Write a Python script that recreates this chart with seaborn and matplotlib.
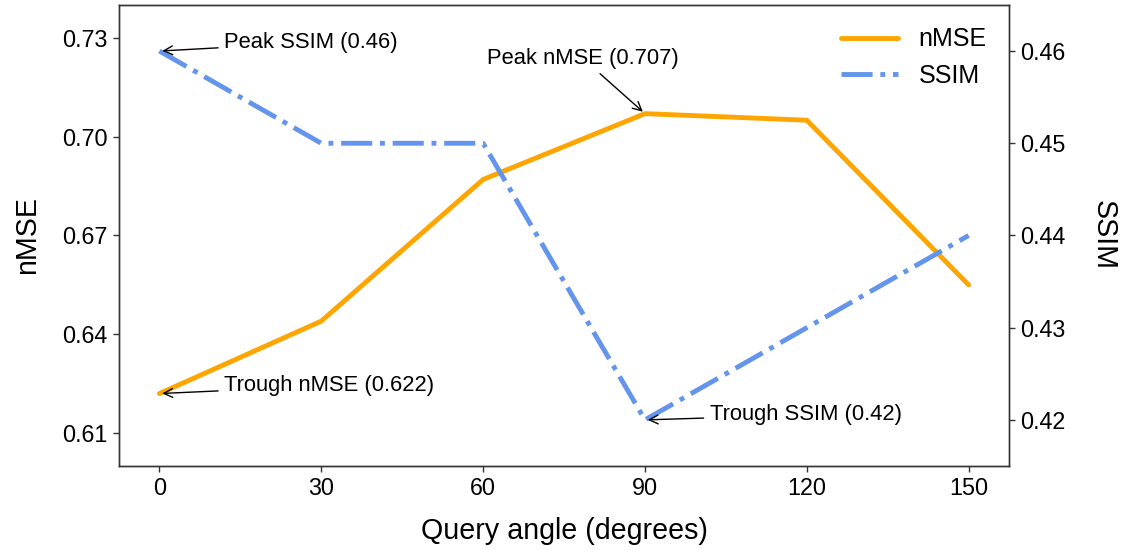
import numpy as np
import pandas as pd
import seaborn as sns

import matplotlib
matplotlib.use('Agg')
import matplotlib.pyplot as plt
from matplotlib.ticker import FormatStrFormatter

# data
angles = [0, 30, 60, 90, 120, 150]
nmse = [0.622, 0.644, 0.687, 0.707, 0.705, 0.655]
ssim = [0.46, 0.45, 0.45, 0.42, 0.43, 0.44]

nmse_ticks = [0.61, 0.64, 0.67, 0.70, 0.73]
ssim_ticks = [0.42, 0.43, 0.44, 0.45, 0.46]

df = pd.DataFrame({'angle': angles, 'nMSE': nmse, 'SSIM': ssim})

sns.set_style('ticks')
plt.rcParams['font.family'] = ['Liberation Sans', 'DejaVu Sans']
plt.rcParams['axes.edgecolor'] = '.2'
plt.rcParams['axes.linewidth'] = 1.0
plt.rcParams['text.color'] = 'black'
plt.rcParams['axes.labelcolor'] = 'black'
plt.rcParams['xtick.color'] = 'black'
plt.rcParams['ytick.color'] = 'black'

fig, ax = plt.subplots(figsize=(11.3, 5.5), dpi=100)
fig.subplots_adjust(left=0.1053, right=0.893, top=0.991, bottom=0.1527)
ax2 = ax.twinx()

sns.lineplot(data=df, x='angle', y='nMSE', ax=ax, color='orange',
             lw=3.5, label='nMSE', legend=False)
sns.lineplot(data=df, x='angle', y='SSIM', ax=ax2, color='cornflowerblue',
             lw=3.5, linestyle='-.', label='SSIM', legend=False)

ax.set_ylim(0.600, 0.740)
ax2.set_ylim(0.415, 0.465)
ax.set_xticks(angles)
ax.set_yticks(nmse_ticks)
ax2.set_yticks(ssim_ticks)
ax.yaxis.set_major_formatter(FormatStrFormatter('%.2f'))
ax2.yaxis.set_major_formatter(FormatStrFormatter('%.2f'))

for a in (ax, ax2):
    a.tick_params(labelsize=16.8, length=4.2, width=1, pad=4,
                  color='.2', labelcolor='black')
    for s in a.spines.values():
        s.set_visible(True)
        s.set_color('.2')

ax.set_xlabel('Query angle (degrees)', fontsize=20.6, labelpad=12)
ax.set_ylabel('nMSE', fontsize=20.6, labelpad=15)
ax2.set_ylabel('SSIM', fontsize=20.6, rotation=270, labelpad=37)

# annotations
arrow = dict(arrowstyle='->', color='black', lw=1)
i = int(np.argmax(nmse))
ax.annotate(f'Peak nMSE ({nmse[i]:.3f})', xy=(angles[i], nmse[i]),
            xytext=(-45, 40), textcoords='offset points', ha='center', va='center',
            fontsize=15.8, arrowprops=arrow)
i = int(np.argmin(nmse))
ax.annotate(f'Trough nMSE ({nmse[i]:.3f})', xy=(angles[i], nmse[i]),
            xytext=(46.6, 5.5), textcoords='offset points', ha='left', va='center',
            fontsize=15.8, arrowprops=arrow)
i = int(np.argmax(ssim))
ax2.annotate(f'Peak SSIM ({ssim[i]:.2f})', xy=(angles[i], ssim[i]),
             xytext=(46.6, 6), textcoords='offset points', ha='left', va='center',
             fontsize=15.8, arrowprops=arrow)
i = int(np.argmin(ssim))
ax2.annotate(f'Trough SSIM ({ssim[i]:.2f})', xy=(angles[i], ssim[i]),
             xytext=(46.6, 3.6), textcoords='offset points', ha='left', va='center',
             fontsize=15.8, arrowprops=arrow)

h1, l1 = ax.get_legend_handles_labels()
h2, l2 = ax2.get_legend_handles_labels()
ax2.legend(h1 + h2, l1 + l2, loc='upper right', frameon=False,
           fontsize=18, handlelength=2.3)

plt.savefig('out.png', dpi=100)
